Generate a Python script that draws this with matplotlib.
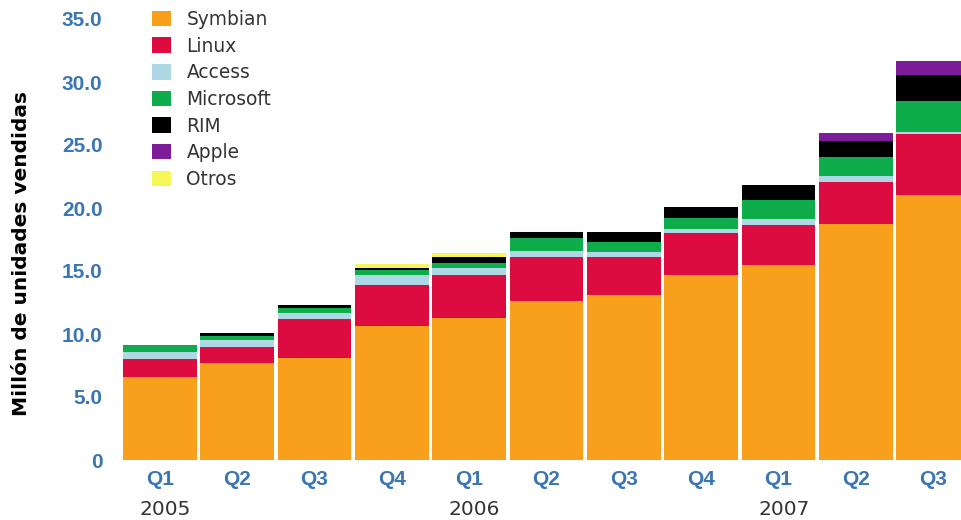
import matplotlib
matplotlib.use("Agg")
import matplotlib.pyplot as plt
import numpy as np

# datos (millones de unidades por trimestre)
quarters = ["Q1", "Q2", "Q3", "Q4", "Q1", "Q2", "Q3", "Q4", "Q1", "Q2", "Q3"]
years = ["2005", "2006", "2007"]
year_pos = [0, 4, 8]

symbian = [6.6, 7.7, 8.1, 10.6, 11.3, 12.6, 13.1, 14.7, 15.5, 18.7, 21.0]
linux = [1.45, 1.3, 3.1, 3.25, 3.4, 3.5, 3.0, 3.3, 3.15, 3.4, 4.85]
access = [0.55, 0.5, 0.48, 0.85, 0.55, 0.5, 0.4, 0.3, 0.45, 0.45, 0.15]
microsoft = [0.5, 0.32, 0.36, 0.4, 0.4, 1.05, 0.8, 0.9, 1.5, 1.5, 2.5]
rim = [0, 0.25, 0.29, 0.12, 0.5, 0.45, 0.8, 0.85, 1.2, 1.3, 2.05]
apple = [0, 0, 0, 0, 0, 0, 0, 0, 0, 0.6, 1.1]
otros = [0, 0, 0, 0.35, 0.25, 0, 0, 0, 0, 0, 0]

series = [
    ("Symbian", symbian, "#f8a01c"),
    ("Linux", linux, "#dc0c40"),
    ("Access", access, "#aed8e6"),
    ("Microsoft", microsoft, "#0fac4c"),
    ("RIM", rim, "#000000"),
    ("Apple", apple, "#7d1c98"),
    ("Otros", otros, "#f6f65a"),
]

blue = "#3a76b4"

fig = plt.figure(figsize=(9.61, 5.2), dpi=100)
ax = fig.add_axes([122 / 961, 60 / 520, 839 / 961, 441 / 520])

x = np.arange(len(quarters))
bottom = np.zeros(len(quarters))
for name, vals, col in series:
    ax.bar(x, vals, bottom=bottom, width=0.95, color=col, label=name, linewidth=0)
    bottom += np.array(vals)

ax.set_xlim(-0.49, 10.36)
ax.set_ylim(0, 35)
ax.set_yticks(np.arange(0, 36, 5))
ax.set_yticklabels(["0"] + [f"{v:.1f}" for v in np.arange(5, 36, 5)])
ax.set_xticks(x)
ax.set_xticklabels(quarters)
ax.tick_params(length=0)
ax.tick_params(axis="y", pad=14, labelsize=15, labelcolor=blue)
ax.tick_params(axis="x", pad=7, labelsize=15, labelcolor=blue)
for lab in ax.get_yticklabels() + ax.get_xticklabels():
    lab.set_fontfamily("Liberation Sans")
    lab.set_fontweight("bold")
for s in ax.spines.values():
    s.set_visible(False)

for yr, p in zip(years, year_pos):
    ax.text(p + 0.07, -0.112, yr, transform=ax.get_xaxis_transform(),
            ha="center", va="center", fontsize=14.5, color="#333333")

fig.text(22 / 961, 1 - 253 / 520, "Millón de unidades vendidas", rotation=90,
         ha="center", va="center", fontsize=14.5, fontweight="bold", color="black")

leg = fig.legend(loc="upper left", bbox_to_anchor=(152 / 961, 1 - 10 / 520),
                 frameon=False, fontsize=13.4, handlelength=1.0, handleheight=0.9,
                 handletextpad=0.85, labelspacing=0.41, borderpad=0, borderaxespad=0)
for t in leg.get_texts():
    t.set_color("#333333")

fig.savefig("out.png", dpi=100, facecolor="white")
